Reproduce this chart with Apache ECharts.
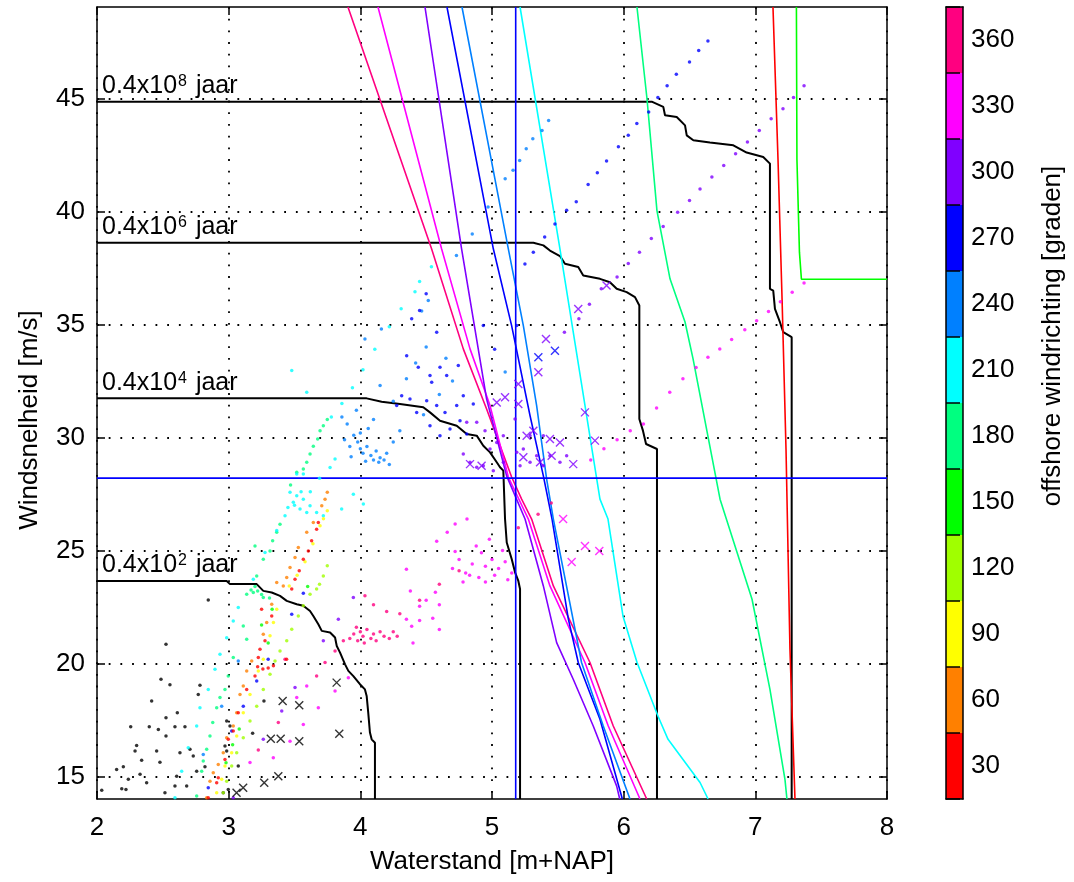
<!DOCTYPE html>
<html><head><meta charset="utf-8">
<script src="https://cdn.jsdelivr.net/npm/echarts@6/dist/echarts.min.js"></script>
<style>html,body{margin:0;padding:0;background:#fff}#c{width:1074px;height:882px}</style>
</head><body><div id="c"></div>
<script>
// ---- tick labels / categories ----
const xTicks = [2,3,4,5,6,7,8];
const yTicks = [15,20,25,30,35,40,45];
const cbLabels = ['30','60','90','120','150','180','210','240','270','300','330','360'];
const cbColors = ['#FF0000','#FF8000','#FFFF00','#A0FF00','#00FF00','#00FF80','#00FFFF','#0080FF','#0000FF','#8000FF','#FF00FF','#FF0080'];

// ---- return-period contours (black) ----
const contour8 = [[2,44.86],[6.213,44.86],[6.301,44.63],[6.314,44.26],[6.403,44.18],[6.466,43.81],[6.479,43.37],[6.529,43.15],[6.655,43.05],[6.833,42.93],[6.934,42.61],[7.06,42.41],[7.111,42.12],[7.111,36.58],[7.136,36.5],[7.149,35.69],[7.187,35.1],[7.212,34.66],[7.276,34.44],[7.276,14]];
const contour6 = [[2,38.62],[5.314,38.62],[5.39,38.5],[5.44,38.27],[5.516,38.03],[5.554,37.69],[5.655,37.54],[5.693,37.17],[5.82,37.02],[5.896,36.87],[5.947,36.58],[6.023,36.43],[6.086,36.21],[6.119,35.84],[6.119,30.82],[6.147,30.29],[6.17,29.71],[6.253,29.49],[6.253,14]];
const contour4 = [[2,31.73],[4.048,31.73],[4.162,31.58],[4.301,31.48],[4.478,31.34],[4.529,31.11],[4.605,30.74],[4.732,30.52],[4.808,30.15],[4.884,30.08],[4.934,29.63],[4.985,29.34],[5.036,28.9],[5.061,28.68],[5.086,28.53],[5.099,26.39],[5.112,25.35],[5.15,24.61],[5.175,24.03],[5.2,23.65],[5.213,23.29],[5.213,14]];
const contour2 = [[2,23.65],[2.985,23.65],[3.01,23.51],[3.213,23.51],[3.263,23.21],[3.327,23.14],[3.39,22.99],[3.441,22.77],[3.517,22.62],[3.567,22.55],[3.618,22.32],[3.643,22.1],[3.681,21.73],[3.707,21.44],[3.77,21.37],[3.808,21.15],[3.821,20.77],[3.846,20.48],[3.884,19.96],[3.909,19.67],[3.947,19.44],[3.997,19.08],[4.035,18.85],[4.048,18.56],[4.06,17.82],[4.073,16.94],[4.086,16.64],[4.111,16.49],[4.111,14]];
const contourExp = ['8','6','4','2'];

// ---- direction curves ----
const lineRose = [[3.906,49.05],[4.541,38.35],[4.782,33.92],[4.959,31.26],[5.149,28.25],[5.225,27.27],[5.301,26.39],[5.466,23.43],[5.744,20.04],[5.921,17.23],[6.175,14]];
const lineMagenta = [[4.134,49.05],[4.617,38.35],[4.833,33.92],[4.985,31.41],[5.124,28.25],[5.276,26.39],[5.44,23.43],[5.706,20.04],[5.883,17.23],[6.124,14]];
const lineViolet = [[4.491,49.05],[4.769,38.35],[4.959,31.7],[5.111,28.3],[5.251,26.39],[5.39,23.43],[5.491,20.92],[5.617,19.3],[5.769,17.23],[5.947,14.57],[5.97,14]];
const lineBlue = [[4.658,49.05],[5.01,38.35],[5.149,34.95],[5.289,30.96],[5.39,28.3],[5.456,26.39],[5.58,21.96],[5.655,20.04],[5.82,17.53],[5.99,14]];
const lineAzure = [[4.772,49.05],[5.124,38.35],[5.238,34.95],[5.339,31.41],[5.415,28.16],[5.466,26.39],[5.68,20.04],[5.845,17.23],[6.048,14]];
const lineCyan = [[5.213,49.05],[5.516,38.35],[5.82,27.27],[5.881,26.39],[5.995,22.09],[6.101,20.05],[6.261,17.66],[6.337,16.64],[6.58,14.73],[6.641,14]];
const lineSpring = [[6.101,49.05],[6.177,45.0],[6.253,40.03],[6.352,37.02],[6.466,35.11],[6.527,33.48],[6.732,27.27],[6.975,22.84],[7.111,18.85],[7.225,14.87],[7.24,14]];
const lineRed = [[7.134,49.05],[7.172,42.34],[7.203,36.13],[7.233,29.49],[7.263,20.63],[7.301,14]];
const lineGreen = [[7.312,49.05],[7.316,42.3],[7.335,38.2],[7.35,37.0],[8,37.0]];
const designX = [[5.18,14],[5.18,49.05]];
const designY = [[2,28.2],[8,28.2]];

// ---- scatter points ----
const blackDots = [[2.845,22.81],[2.524,20.85],[2.486,19.3],[2.554,19.06],[2.415,18.34],[2.61,17.82],[2.524,17.6],[2.256,17.2],[2.397,17.2],[2.466,17.08],[2.592,17.2],[2.668,17.2],[2.524,16.79],[2.782,19.03],[2.769,18.63],[2.301,16.37],[2.289,16.12],[2.453,16.12],[2.63,16.05],[2.339,15.72],[2.478,15.63],[2.149,15.31],[2.2,15.43],[2.327,15.09],[2.036,14.39],[2.188,14.45],[2.22,14.42],[2.377,14.72],[2.516,14.28],[2.605,15.01],[2.681,14.57],[2.757,15.23],[2.82,15.43],[2.706,16.2],[2.731,15.9],[2.592,14.57],[2.238,14.87],[2.985,17.45],[3.01,17.23],[2.972,16.34],[2.985,16.12],[3.073,15.46],[3.182,16.91],[3.268,18.34],[2.959,14.28],[2.997,14.42]];
const blackX = [[3.82,19.15],[3.41,18.34],[3.536,18.15],[3.84,16.89],[3.32,16.67],[3.395,16.67],[3.536,16.56],[3.377,15.01],[3.27,14.72],[3.11,14.5],[3.06,14.28]];
const redDots = [[3.681,26.24],[3.668,25.94],[3.63,25.43],[3.605,24.98],[3.567,24.61],[3.536,24.1],[3.504,23.73],[3.479,23.29],[3.327,22.1],[3.276,21.0],[3.238,20.63],[3.225,20.26],[3.22,19.85],[3.26,19.75],[3.3,19.8],[3.34,19.9],[3.2,19.44],[3.137,18.85],[3.073,17.82],[3.035,17.01],[2.997,16.64],[2.972,15.75],[2.921,14.94],[2.909,14.72],[2.845,14.06],[3.25,22.4],[3.44,20.18]];
const orangeDots = [[3.749,27.57],[3.732,27.27],[3.707,26.98],[3.643,26.24],[3.593,25.8],[3.529,25.13],[3.504,24.69],[3.466,24.25],[3.441,23.8],[3.415,23.43],[3.365,23.58],[3.327,22.62],[3.289,21.81],[3.263,21.29],[3.175,20.11],[3.137,19.67],[3.111,19.0],[3.086,18.63],[3.061,17.82],[3.035,17.23],[2.985,16.71],[2.959,16.05],[2.921,15.53],[2.883,15.16],[2.858,14.79],[2.833,14.06]];
const yellowDots = [[3.749,26.76],[3.72,26.4],[3.694,26.09],[3.64,25.3],[3.58,24.5],[3.52,23.9],[3.46,23.43],[3.365,22.4],[3.34,21.81],[3.314,21.22],[3.263,20.18],[3.225,19.67],[3.162,18.63],[3.111,17.82],[3.061,16.79],[3.023,16.05],[2.972,15.46],[2.947,14.87],[2.909,14.28]];
const yellowGreenDots = [[3.749,24.32],[3.719,23.87],[3.69,23.5],[3.668,23.29],[3.618,23.06],[3.567,22.55],[3.529,22.1],[3.479,21.51],[3.441,21.0],[3.39,20.55],[3.352,20.11],[3.314,19.52],[3.263,18.85],[3.213,18.11],[3.162,17.45],[3.111,16.71],[3.061,16.05],[3.023,15.46],[2.985,14.79],[2.959,14.28]];
const greenDots = [[3.33,22.4],[3.3,20.9],[3.08,17.1],[3.03,16.4],[2.98,15.6],[3.25,21.7],[3.6,23.4]];
const springDots = [[3.749,30.79],[3.719,30.52],[3.694,30.3],[3.676,29.93],[3.643,29.61],[3.618,29.27],[3.593,28.9],[3.567,28.6],[3.517,28.46],[3.47,27.9],[3.39,26.16],[3.365,25.8],[3.334,25.43],[3.314,24.98],[3.263,24.61],[3.2,25.2],[3.213,23.87],[3.137,23.06],[3.187,23.14],[3.263,22.92],[3.31,22.9],[3.2,23.4],[3.22,23.2],[3.25,23.05],[3.17,23.25],[3.111,21.66],[3.137,21.07],[3.035,20.26],[2.997,19.44],[2.972,18.85],[2.934,18.49],[2.909,18.04],[2.879,17.38],[2.858,16.79],[2.833,16.2],[2.807,15.68],[2.795,15.23],[2.757,14.13]];
const cyanDots = [[3.479,32.96],[3.593,32.0],[3.466,27.57],[3.517,27.42],[3.567,27.27],[3.618,26.98],[3.491,27.13],[3.542,26.83],[3.593,26.68],[3.668,26.68],[3.719,26.53],[3.428,26.53],[3.517,28.38],[3.567,28.38],[3.365,25.88],[3.276,24.91],[3.187,23.73],[3.858,26.83],[3.947,27.49],[4.023,27.05],[3.77,28.67],[3.808,29.05],[3.69,28.2],[3.073,22.48],[3.035,21.88],[2.985,21.14],[2.934,20.41],[2.896,19.74],[2.845,18.85],[2.782,18.04],[2.757,17.23],[2.693,16.27],[2.643,15.23],[2.592,14.06],[3.94,32.2],[4.02,33.0],[4.11,33.9],[4.22,34.9],[4.31,35.7],[4.415,36.45],[4.45,36.9],[4.54,37.55],[3.86,31.5],[3.78,30.9],[3.5,27.0],[3.45,26.9],[3.55,27.6],[3.62,27.6]];
const azureDots = [[3.86,30.9],[3.9,30.6],[3.95,30.1],[3.98,29.8],[4.0,29.5],[4.02,29.3],[4.05,29.6],[4.08,29.2],[4.1,29.0],[4.12,29.4],[4.15,29.1],[4.18,29.0],[4.0,30.2],[3.92,29.6],[4.06,30.4],[3.88,29.9],[4.14,28.9],[4.2,29.3],[4.25,29.8],[4.3,30.3],[4.1,30.8],[3.97,31.2],[4.04,28.95],[3.93,29.15],[4.22,28.8],[4.35,32.6],[4.42,33.3],[4.6,31.9],[4.7,32.5],[4.5,34.0],[4.48,31.0],[4.15,32.3],[4.25,31.6],[4.65,33.5],[5.1,32.9],[4.035,34.36],[4.16,34.8],[4.466,35.6],[4.516,36.06],[4.73,38.05],[4.85,39.0],[4.97,40.2],[5.1,41.45],[5.16,41.82],[5.21,42.26],[5.26,42.78],[5.31,43.22],[5.38,43.59],[5.43,44.03],[2.947,18.11],[2.807,15.97],[3.073,20.11]];
const blueDots = [[4.352,33.62],[4.44,33.11],[4.529,32.74],[4.605,33.11],[4.656,32.74],[4.744,33.18],[4.542,32.44],[4.504,31.63],[4.58,31.41],[4.643,31.11],[4.732,31.41],[4.782,31.85],[4.858,31.48],[4.529,30.52],[4.605,30.08],[4.681,30.37],[4.757,30.74],[4.808,30.15],[4.377,31.7],[4.428,31.11],[4.314,31.85],[4.276,31.41],[4.934,34.95],[5.188,34.95],[5.25,37.68],[5.02,33.9],[4.5,36.36],[4.45,35.62],[4.39,35.25],[4.58,34.66],[5.314,38.2],[5.4,38.87],[5.478,39.45],[5.567,40.05],[5.64,40.43],[5.73,41.2],[5.8,41.72],[5.87,42.24],[5.96,42.86],[6.035,43.37],[6.1,43.89],[6.19,44.4],[6.26,45.04],[6.33,45.56],[6.4,46.07],[6.5,46.62],[6.57,47.13],[6.64,47.55],[3.479,22.18],[3.3,20.18],[3.213,19.22],[3.111,18.11],[3.023,17.01],[2.845,14.5],[3.567,23.11]];
const blueX = [[5.478,33.84],[5.352,33.55]];
const violetDots = [[4.808,30.67],[4.884,30.67],[4.947,30.3],[4.985,29.49],[5.036,29.78],[5.086,30.08],[5.188,29.34],[5.238,29.49],[5.289,28.9],[5.339,29.19],[5.39,28.75],[5.44,29.19],[5.516,28.9],[5.567,29.19],[5.289,30.08],[5.39,30.08],[4.833,28.9],[4.884,28.68],[4.934,28.75],[5.01,28.53],[5.213,28.75],[5.086,28.9],[4.782,29.27],[5.175,30.82],[5.55,34.66],[5.66,35.25],[5.74,35.9],[5.83,36.58],[5.95,37.1],[6.035,37.7],[6.12,38.2],[6.21,38.8],[6.3,39.34],[6.41,39.97],[6.5,40.49],[6.58,41.0],[6.67,41.53],[6.76,42.04],[6.85,42.56],[6.94,43.08],[7.03,43.59],[7.12,44.11],[7.21,44.55],[7.29,45.04],[7.37,45.56],[3.833,21.96],[3.719,21.0],[3.504,18.93],[3.403,17.89],[3.263,16.64],[3.035,14.06],[3.947,22.92]];
const violetX = [[5.655,35.69],[5.41,34.36],[5.352,32.89],[5.2,32.37],[5.099,31.78],[5.2,31.48],[5.706,31.11],[5.782,29.86],[5.516,29.78],[5.44,29.93],[5.263,30.08],[5.314,30.3],[5.617,28.82],[5.453,29.19],[5.365,28.9],[5.238,29.12],[4.833,28.82],[4.921,28.75],[5.036,31.55],[5.87,36.72]];
const magentaDots = [[4.7,24.2],[4.75,24.6],[4.8,24.0],[4.85,24.4],[4.9,23.8],[4.92,24.9],[4.95,24.3],[5.0,24.6],[5.02,23.9],[5.05,24.2],[5.08,25.0],[5.1,24.5],[5.12,23.7],[4.78,23.6],[4.88,25.2],[4.98,25.5],[5.15,24.0],[4.72,24.95],[4.83,23.9],[4.95,23.6],[4.6,22.6],[4.55,22.0],[4.45,21.9],[4.5,22.8],[4.4,20.9],[4.6,21.5],[4.35,24.17],[4.45,22.53],[4.58,25.41],[4.66,25.81],[4.72,26.17],[4.81,26.39],[4.38,23.2],[4.35,21.96],[4.39,21.65],[4.57,23.15],[3.517,18.49],[3.593,19.0],[3.681,18.04],[3.567,17.3],[3.466,16.56],[3.339,15.83],[3.162,15.61],[3.909,19.37],[3.808,18.78],[5.75,29.0],[5.85,29.5],[5.95,29.9],[6.05,30.3],[6.15,30.6],[6.25,31.3],[6.35,32.0],[6.45,32.6],[6.55,33.1],[6.64,33.55],[6.73,33.92],[6.82,34.33],[6.92,34.77],[7.01,35.17],[7.1,35.57],[7.19,36.01],[7.28,36.43],[7.37,36.84]];
const magentaX = [[5.706,25.2],[5.815,24.98],[5.605,24.49],[5.54,26.39]];
const roseDots = [[3.92,21.1],[3.95,21.3],[3.98,21.0],[4.0,21.4],[4.02,21.2],[4.05,21.5],[4.08,21.1],[4.1,21.3],[4.12,21.0],[4.15,21.4],[4.18,21.2],[4.22,21.1],[4.25,21.4],[4.28,21.2],[3.97,21.6],[4.03,20.9],[4.035,22.99],[4.1,22.6],[4.2,22.3],[4.3,22.2],[4.45,22.8],[4.6,23.5],[4.75,24.1],[3.225,16.17],[3.377,17.38],[3.732,20.04],[3.808,20.55],[3.871,21.0],[3.668,19.44],[3.428,20.18],[5.2,26.0],[5.35,26.6],[5.45,27.1]];

const FONT = "'Liberation Sans', Arial, Helvetica, sans-serif";
const chart = echarts.init(document.getElementById('c'));

function curve(data, color, w, z) {
  return {type:'line', data, symbol:'none', silent:true, animation:false, xAxisIndex:0, yAxisIndex:0, z:z||3,
          lineStyle:{color, width:w}};
}
function dots(data, color) {
  return {type:'scatter', data, symbol:'circle', symbolSize:3.5, silent:true, animation:false, xAxisIndex:0, yAxisIndex:0, z:4,
          itemStyle:{color}};
}
function crosses(data, color) {
  return {type:'scatter', data, symbol:'path://M0,0L10,10M10,0L0,10', symbolSize:8, silent:true, animation:false, xAxisIndex:0, yAxisIndex:0, z:5,
          itemStyle:{color:'none', borderColor:color, borderWidth:1.4}};
}

const frameLine = {show:true, onZero:false, lineStyle:{color:'#000', width:1.5}};
const tickIn = {show:true, inside:true, length:8, lineStyle:{color:'#000', width:1.5}};
const dotted = {show:true, lineStyle:{color:'#000', width:1.8, type:[1.8, 9.9]}};
const lbl = {color:'#000', fontSize:26, fontFamily:FONT};

const option = {
  animation:false,
  backgroundColor:'#fff',
  grid:[
    {left:97, top:7, right:187, bottom:83, show:false},
    {left:946, top:7, width:17, bottom:83, show:false}
  ],
  xAxis:[
    {gridIndex:0, type:'value', min:xTicks[0], max:xTicks[xTicks.length-1], interval:1, position:'bottom',
     axisLine:frameLine, axisTick:tickIn, splitLine:dotted,
     axisLabel:Object.assign({margin:16}, lbl),
     name:'Waterstand [m+NAP]', nameLocation:'middle', nameGap:50, nameTextStyle:lbl},
    {gridIndex:0, type:'value', min:xTicks[0], max:xTicks[xTicks.length-1], interval:1, position:'top',
     axisLine:frameLine, axisTick:tickIn, splitLine:{show:false}, axisLabel:{show:false}},
    {gridIndex:1, type:'value', min:0, max:1, position:'bottom', axisLine:frameLine, axisTick:{show:false}, axisLabel:{show:false}, splitLine:{show:false}, z:10},
    {gridIndex:1, type:'value', min:0, max:1, position:'top', axisLine:frameLine, axisTick:{show:false}, axisLabel:{show:false}, splitLine:{show:false}, z:10}
  ],
  yAxis:[
    {gridIndex:0, type:'value', min:14, max:49.05, position:'left',
     axisLine:frameLine, axisTick:Object.assign({customValues:yTicks}, tickIn), splitLine:dotted,
     axisLabel:Object.assign({margin:12, customValues:yTicks}, lbl)},
    {gridIndex:0, type:'value', min:14, max:49.05, position:'right',
     axisLine:frameLine, axisTick:Object.assign({customValues:yTicks}, tickIn), splitLine:{show:false}, axisLabel:{show:false}},
    {gridIndex:1, type:'category', data:cbLabels, position:'right',
     axisLine:frameLine, axisTick:{show:false}, splitLine:{show:false},
     axisLabel:Object.assign({margin:8}, lbl), z:10},
    {gridIndex:1, type:'category', data:cbLabels, position:'left',
     axisLine:frameLine, axisTick:{show:true, inside:true, length:14, lineStyle:{color:'#000', width:1.5}},
     axisLabel:{show:false}, splitLine:{show:false}, z:10}
  ],
  series:[
    curve(contour2, '#000', 2),
    curve(contour4, '#000', 2),
    curve(contour6, '#000', 2),
    curve(contour8, '#000', 2),
    curve(lineRose, '#FF0080', 1.6),
    curve(lineMagenta, '#FF00FF', 1.6),
    curve(lineViolet, '#8000FF', 1.6),
    curve(lineBlue, '#0000FF', 1.6),
    curve(lineAzure, '#0080FF', 1.6),
    curve(lineCyan, '#00FFFF', 1.6),
    curve(lineSpring, '#00FF80', 1.6),
    curve(lineRed, '#FF0000', 1.6),
    curve(lineGreen, '#00FF00', 1.6),
    curve(designX, '#0000FF', 1.6),
    curve(designY, '#0000FF', 1.6),
    dots(blackDots, '#000000'),
    dots(springDots, '#00FF80'),
    dots(cyanDots, '#00FFFF'),
    dots(azureDots, '#0080FF'),
    dots(blueDots, '#0000FF'),
    dots(violetDots, '#8000FF'),
    dots(magentaDots, '#FF00FF'),
    dots(roseDots, '#FF0080'),
    dots(greenDots, '#00FF00'),
    dots(yellowGreenDots, '#A0FF00'),
    dots(yellowDots, '#FFFF00'),
    dots(orangeDots, '#FF8000'),
    dots(redDots, '#FF0000'),
    crosses(blackX, '#000000'),
    crosses(violetX, '#8000FF'),
    crosses(blueX, '#0000FF'),
    crosses(magentaX, '#FF00FF'),
    {type:'bar', xAxisIndex:2, yAxisIndex:2, barWidth:'100%', barCategoryGap:0, silent:true, animation:false,
     data:cbColors.map(c => ({value:1, itemStyle:{color:c}}))}
  ]
};
chart.setOption(option);

const contours = [contour8, contour6, contour4, contour2];
const graphics = contours.map((c, i) => {
  const p = chart.convertToPixel({gridIndex:0}, c[0]);
  return {type:'text', x:p[0] + 5, y:p[1] - 3, silent:true,
    style:{text:'0.4x10{sup|' + contourExp[i] + '} jaar', fill:'#000', fontSize:25, fontFamily:FONT,
           verticalAlign:'bottom', align:'left',
           rich:{sup:{fontSize:16, fontFamily:FONT, fill:'#000', verticalAlign:'top', padding:[0,2,0,1]}}}};
});
graphics.push({type:'text', x:30, y:420, rotation:Math.PI/2, silent:true,
  style:{text:'Windsnelheid [m/s]', fill:'#000', fontSize:26, fontFamily:FONT, align:'center', verticalAlign:'middle'}});
graphics.push({type:'text', x:1053, y:336, rotation:Math.PI/2, silent:true,
  style:{text:'offshore windrichting [graden]', fill:'#000', fontSize:26, fontFamily:FONT, align:'center', verticalAlign:'middle'}});
chart.setOption({graphic:graphics});
</script>
</body></html>
